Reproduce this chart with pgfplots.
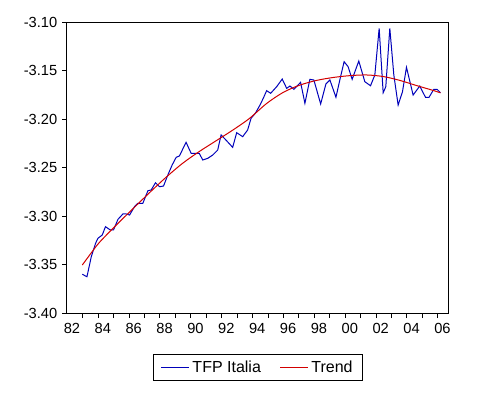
\documentclass[border=0pt]{standalone}
\usepackage{pgfplots}
\pgfplotsset{compat=1.18}
\usepackage{fontspec}
\setmainfont{Liberation Sans}
\definecolor{tfpblue}{RGB}{0,0,185}
\definecolor{trendred}{RGB}{210,0,0}
\begin{document}
\begin{tikzpicture}
\path[use as bounding box] (-50.25pt,-60.75pt) rectangle (309.75pt,234.75pt);
\begin{axis}[
  at={(0,0)}, anchor=south west,
  scale only axis, width=286.5pt, height=218.25pt,
  xmin=1981.677, xmax=2006.424, ymin=-3.40, ymax=-3.10,
  axis line style={line width=0.75pt},
  tick style={black, line width=0.75pt},
  tick align=outside, major tick length=3.75pt,
  xtick pos=left, ytick pos=left,
  xtick={1982.7,1983.7,1984.7,1985.7,1986.7,1987.7,1988.7,1989.7,1990.7,1991.7,1992.7,1993.7,1994.7,1995.7,1996.7,1997.7,1998.7,1999.7,2000.7,2001.7,2002.7,2003.7,2004.7,2005.7},
  xticklabels={},
  extra x ticks={1982,1984,1986,1988,1990,1992,1994,1996,1998,2000,2002,2004,2006},
  extra x tick labels={82,84,86,88,90,92,94,96,98,00,02,04,06},
  extra x tick style={major tick length=0pt, xticklabel style={yshift=-4pt}},
  ytick={-3.40,-3.35,-3.30,-3.25,-3.20,-3.15,-3.10},
  yticklabels={-3.40,-3.35,-3.30,-3.25,-3.20,-3.15,-3.10},
  ticklabel style={font=\fontsize{11}{13}\selectfont},
  legend style={at={(0.5,-0.188)}, anchor=center, draw=none, name=leg,
    legend columns=2, font=\fontsize{12}{14}\selectfont,
    /tikz/every even column/.append style={column sep=12pt},
    inner xsep=5pt, inner ysep=2.5pt},
  legend image code/.code={\draw[#1, line width=0.8pt] (0pt,0pt) -- (21pt,0pt);},
]
\addplot[color=tfpblue, line width=0.75pt] coordinates {
(1982.67,-3.3601) (1982.97,-3.3626) (1983.25,-3.3420) (1983.53,-3.3281) (1983.68,-3.3230)
(1983.96,-3.3196) (1984.17,-3.3110) (1984.48,-3.3144) (1984.69,-3.3144) (1984.98,-3.3034)
(1985.30,-3.2979) (1985.51,-3.2979) (1985.73,-3.2990) (1986.05,-3.2904) (1986.27,-3.2869)
(1986.59,-3.2869) (1986.92,-3.2739) (1987.13,-3.2732) (1987.41,-3.2657) (1987.67,-3.2698)
(1987.93,-3.2691) (1988.21,-3.2577) (1988.49,-3.2474) (1988.75,-3.2395) (1988.96,-3.2381)
(1989.39,-3.2240) (1989.72,-3.2354) (1990.25,-3.2354) (1990.47,-3.2423) (1990.80,-3.2405)
(1991.12,-3.2371) (1991.44,-3.2320) (1991.66,-3.2165) (1991.87,-3.2199) (1992.41,-3.2292)
(1992.67,-3.2141) (1993.06,-3.2182) (1993.38,-3.2113) (1993.60,-3.1993) (1993.88,-3.1941)
(1994.18,-3.1856) (1994.39,-3.1787) (1994.61,-3.1708) (1994.87,-3.1735) (1995.26,-3.1667)
(1995.62,-3.1588) (1995.91,-3.1684) (1996.12,-3.1660) (1996.38,-3.1694) (1996.81,-3.1622)
(1997.09,-3.1838) (1997.41,-3.1591) (1997.67,-3.1598) (1998.11,-3.1845) (1998.45,-3.1639)
(1998.71,-3.1598) (1999.10,-3.1776) (1999.40,-3.1564) (1999.63,-3.1409) (1999.89,-3.1461)
(2000.15,-3.1591) (2000.58,-3.1402) (2000.97,-3.1615) (2001.34,-3.1657) (2001.62,-3.1546)
(2001.90,-3.1065) (2002.16,-3.1729) (2002.33,-3.1667) (2002.59,-3.1065) (2002.85,-3.1546)
(2003.13,-3.1856) (2003.41,-3.1719) (2003.67,-3.1467) (2004.10,-3.1753) (2004.53,-3.1660)
(2004.90,-3.1776) (2005.13,-3.1776) (2005.44,-3.1694) (2005.65,-3.1694) (2005.87,-3.1729)
};
\addlegendentry{TFP Italia}
\addplot[color=trendred, line width=0.75pt, smooth] coordinates {
(1982.67,-3.3505) (1983.25,-3.3380) (1983.79,-3.3270) (1984.87,-3.3093) (1985.95,-3.2925)
(1987.02,-3.2760) (1988.10,-3.2600) (1989.18,-3.2455) (1990.25,-3.2335) (1991.33,-3.2225)
(1992.41,-3.2115) (1993.49,-3.1995) (1994.61,-3.1840) (1995.69,-3.1725) (1996.77,-3.1650)
(1997.85,-3.1602) (1998.92,-3.1572) (2000.00,-3.1553) (2001.08,-3.1546) (2002.16,-3.1562)
(2003.24,-3.1602) (2004.32,-3.1655) (2005.39,-3.1705) (2005.87,-3.1730)
};
\addlegendentry{Trend}
\end{axis}
\draw[line width=0.75pt] (leg.south west) rectangle (leg.north east);
\end{tikzpicture}
\end{document}
